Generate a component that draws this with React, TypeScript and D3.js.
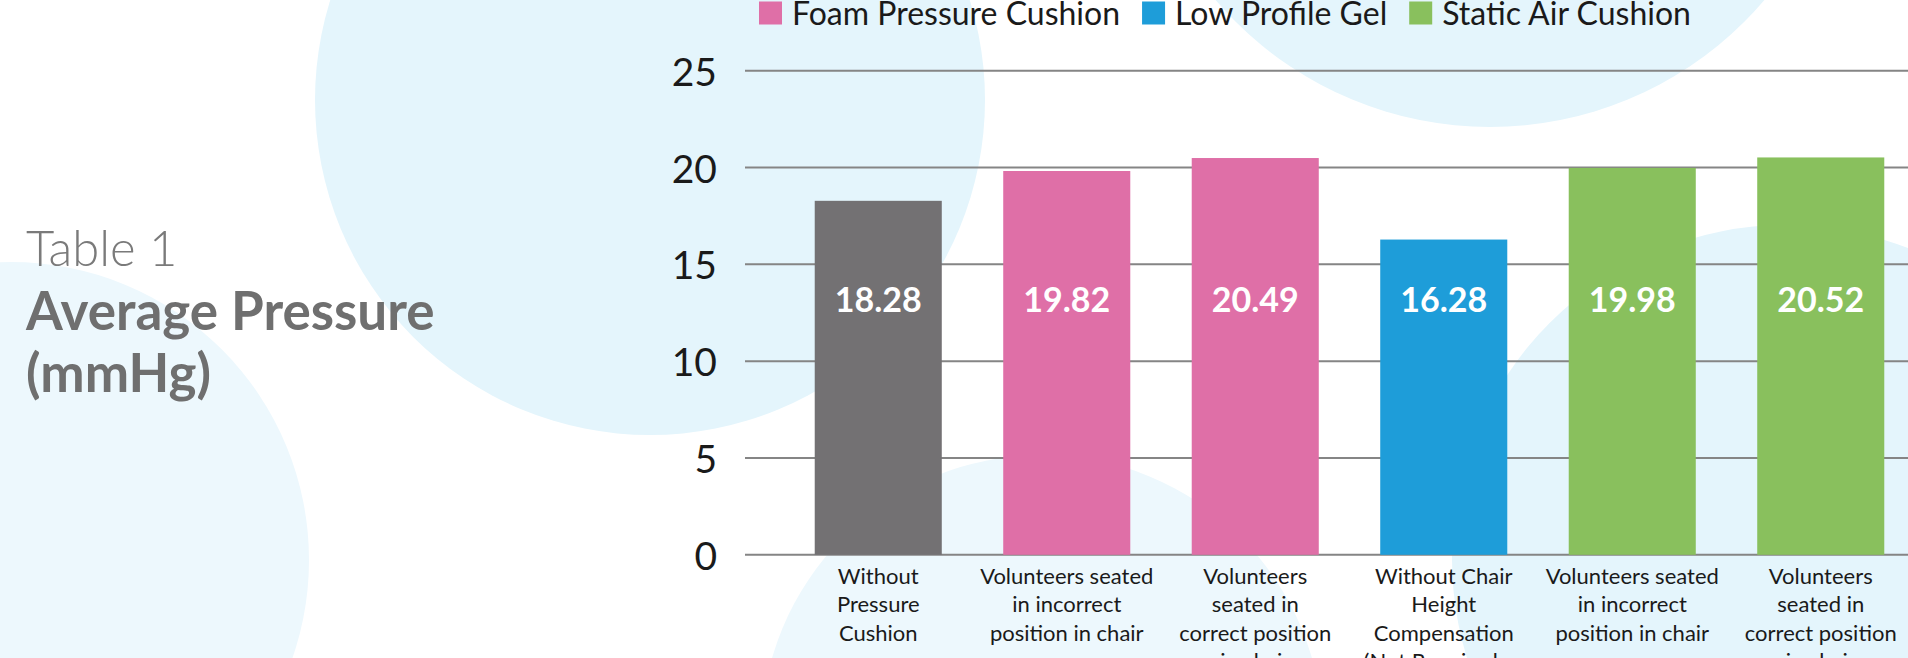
import React, { useEffect, useRef } from 'react';
import * as d3 from 'd3';

// chart data
const categoryLabels: string[][] = [
  ['Without', 'Pressure', 'Cushion'],
  ['Volunteers seated', 'in incorrect', 'position in chair'],
  ['Volunteers', 'seated in', 'correct position', 'in chair'],
  ['Without Chair', 'Height', 'Compensation', '(Not Required as'],
  ['Volunteers seated', 'in incorrect', 'position in chair'],
  ['Volunteers', 'seated in', 'correct position', 'in chair'],
];
const values = [18.28, 19.82, 20.49, 16.28, 19.98, 20.52];
const barSeries = ['None', 'Foam Pressure Cushion', 'Foam Pressure Cushion', 'Low Profile Gel', 'Static Air Cushion', 'Static Air Cushion'];
const legendSeries = ['Foam Pressure Cushion', 'Low Profile Gel', 'Static Air Cushion'];
const yTicks = [0, 5, 10, 15, 20, 25];

const W = 1908;
const H = 658;
const FONT = "Lato, 'Open Sans', sans-serif";

const App: React.FC = () => {
  const ref = useRef<SVGSVGElement | null>(null);

  useEffect(() => {
    if (!ref.current) return;
    const svg = d3.select(ref.current);
    svg.selectAll('*').remove();

    // background decoration
    svg.append('rect').attr('width', W).attr('height', H).attr('fill', '#ffffff');
    const circles = [
      { cx: 650, cy: 100, r: 335, fill: '#e4f5fc' },
      { cx: 1490, cy: -233, r: 360, fill: '#e4f5fc' },
      { cx: 1786, cy: 559, r: 334, fill: '#e4f5fc' },
      { cx: 1042, cy: 736, r: 281, fill: '#edf8fd' },
      { cx: 11, cy: 560, r: 298, fill: '#edf8fd' },
    ];
    svg.selectAll('circle.bg')
      .data(circles)
      .enter().append('circle')
      .attr('class', 'bg')
      .attr('cx', d => d.cx)
      .attr('cy', d => d.cy)
      .attr('r', d => d.r)
      .attr('fill', d => d.fill);

    const color = d3.scaleOrdinal<string, string>()
      .domain(['None', ...legendSeries])
      .range(['#737173', '#df6fa7', '#1e9dd9', '#89c05d']);

    const y = d3.scaleLinear().domain([0, 25]).range([554.8, 70.7]);
    const x = d3.scaleBand<string>()
      .domain(values.map((_, i) => String(i)))
      .range([784, 1915])
      .paddingInner(0.326)
      .paddingOuter(0.163);

    // title
    svg.append('text')
      .attr('x', 26).attr('y', 266)
      .attr('font-family', FONT).attr('font-weight', 300)
      .attr('font-size', 49).attr('fill', '#7a7a7a')
      .text('Table 1');
    svg.append('text')
      .attr('x', 26).attr('y', 330)
      .attr('font-family', FONT).attr('font-weight', 700)
      .attr('font-size', 53).attr('fill', '#6f6f6f')
      .text('Average Pressure');
    svg.append('text')
      .attr('x', 26).attr('y', 392)
      .attr('font-family', FONT).attr('font-weight', 700)
      .attr('font-size', 53).attr('fill', '#6f6f6f')
      .text('(mmHg)');

    // gridlines + y axis labels
    const grid = svg.append('g');
    grid.selectAll('line')
      .data(yTicks)
      .enter().append('line')
      .attr('x1', 745).attr('x2', W)
      .attr('y1', d => y(d)).attr('y2', d => y(d))
      .attr('stroke', '#858585').attr('stroke-width', 2);
    grid.selectAll('text')
      .data(yTicks)
      .enter().append('text')
      .attr('x', 717).attr('y', d => y(d))
      .attr('text-anchor', 'end').attr('dominant-baseline', 'central')
      .attr('font-family', FONT).attr('font-size', 39).attr('fill', '#1a1a1a')
      .text(d => String(d));

    // bars
    svg.append('g').selectAll('rect')
      .data(values)
      .enter().append('rect')
      .attr('x', (_, i) => x(String(i))!)
      .attr('y', d => y(d))
      .attr('width', x.bandwidth())
      .attr('height', d => y(0) - y(d))
      .attr('fill', (_, i) => color(barSeries[i]));

    // value labels
    svg.append('g').selectAll('text')
      .data(values)
      .enter().append('text')
      .attr('x', (_, i) => x(String(i))! + x.bandwidth() / 2)
      .attr('y', y(0) - 243)
      .attr('text-anchor', 'middle')
      .attr('font-family', FONT).attr('font-weight', 700)
      .attr('font-size', 34).attr('fill', '#ffffff')
      .text(d => d.toFixed(2));

    // category labels (the reference crops the last lines at the bottom edge)
    const cat = svg.append('g').selectAll('text')
      .data(categoryLabels)
      .enter().append('text')
      .attr('text-anchor', 'middle')
      .attr('font-family', FONT).attr('font-size', 22).attr('fill', '#1a1a1a');
    cat.each(function (lines, i) {
      const t = d3.select(this);
      const cx = x(String(i))! + x.bandwidth() / 2;
      lines.forEach((line, j) => {
        t.append('tspan').attr('x', cx).attr('y', 584 + j * 28.3).text(line);
      });
    });

    // legend
    const legend = svg.append('g');
    let lx = 759;
    legendSeries.forEach(name => {
      legend.append('rect')
        .attr('x', lx).attr('y', 1.5).attr('width', 23).attr('height', 23)
        .attr('fill', color(name));
      const t = legend.append('text')
        .attr('x', lx + 33).attr('y', 24.5)
        .attr('font-family', FONT).attr('font-size', 32).attr('fill', '#1a1a1a')
        .text(name);
      const w = (t.node() as SVGTextElement).getComputedTextLength();
      lx = lx + 33 + w + 22;
    });
  }, []);

  return (
    <svg
      ref={ref}
      width={W}
      height={H}
      style={{ position: 'absolute', left: 0, top: 0 }}
    />
  );
};

export default App;
